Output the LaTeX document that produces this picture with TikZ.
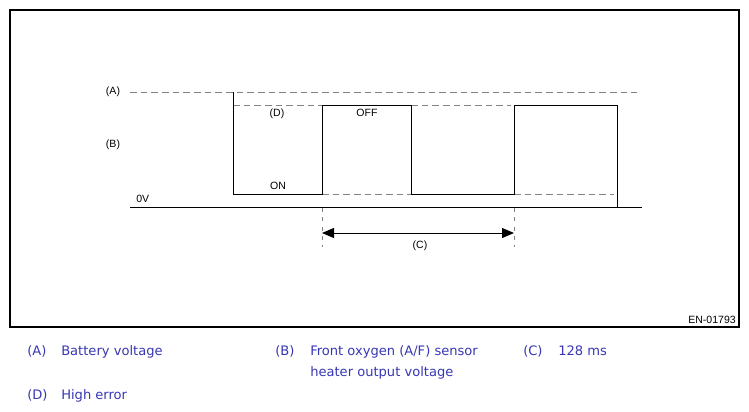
\documentclass[tikz,border=0pt]{standalone}
\usepackage{fontspec}
\setmainfont{Liberation Sans}
\newfontfamily\legendfont{DejaVu Sans}
\usetikzlibrary{arrows.meta}
\definecolor{legblue}{RGB}{55,55,180}
\definecolor{dashgray}{RGB}{130,130,130}
\tikzset{
  px/.style={x=0.75pt,y=-0.75pt},
  wave/.style={line width=0.75pt, black},
  refdash/.style={line width=0.7pt, dashgray, dash pattern=on 5pt off 3pt},
  vdash/.style={line width=0.7pt, dashgray, dash pattern=on 3pt off 4pt},
  lbl/.style={inner sep=0pt, font=\fontsize{7.9pt}{9pt}\selectfont},
  leg/.style={inner sep=0pt, anchor=base west, text=legblue, font=\legendfont\fontsize{9.8pt}{11pt}\selectfont},
}
\begin{document}
\begin{tikzpicture}[px]
\useasboundingbox (0,0) rectangle (749,411);
\fill[white] (0,0) rectangle (749,411);
% frame
\draw[line width=1pt] (10,10) rectangle (739,327);
% reference dashed lines
\draw[refdash] (130,92) -- (637,92);
\draw[refdash] (233,105) -- (322,105);
\draw[refdash] (411,105) -- (511,105);
\draw[refdash] (322,194) -- (411,194);
\draw[refdash] (514,194) -- (614,194);
% 0V line
\draw[wave] (130,207) -- (642,207);
% waveform
\draw[wave] (233,92) -- (233,194) -- (322,194) -- (322,105) -- (411,105) -- (411,194)
  -- (514,194) -- (514,105) -- (617,105) -- (617,207);
% period markers
\coordinate (c1t) at (322,208);
\coordinate (c1b) at (322,247);
\coordinate (c2t) at (514,208);
\coordinate (c2b) at (514,247);
\draw[vdash] (c1t) -- (c1b);
\draw[vdash] (c2t) -- (c2b);
\coordinate (arL) at (322,233);
\coordinate (arR) at (514,233);
\draw[wave, {Triangle[length=9pt,width=7.5pt]}-{Triangle[length=9pt,width=7.5pt]}] (arL) -- (arR);
% labels
\node[lbl] (A) at (113,92) {(A)};
\node[lbl] (B) at (113,145) {(B)};
\node[lbl, anchor=west] (zero) at (136,199) {0V};
\node[lbl] (D) at (277,114) {(D)};
\node[lbl] (on) at (278,186) {ON};
\node[lbl] (off) at (367,113) {OFF};
\node[lbl] (C) at (420,246) {(C)};
\node[lbl, anchor=east] (code) at (736,320) {EN-01793};
% legend
\node[leg] (la) at (27,355) {(A)};
\node[leg] (lat) at (61,355) {Battery voltage};
\node[leg] (lb) at (275,355) {(B)};
\node[leg] (lbt) at (310,355) {Front oxygen (A/F) sensor};
\node[leg] (lbt2) at (310,376) {heater output voltage};
\node[leg] (lc) at (523,355) {(C)};
\node[leg] (lct) at (558,355) {128 ms};
\node[leg] (ld) at (27,399) {(D)};
\node[leg] (ldt) at (61,399) {High error};
\end{tikzpicture}
\end{document}
